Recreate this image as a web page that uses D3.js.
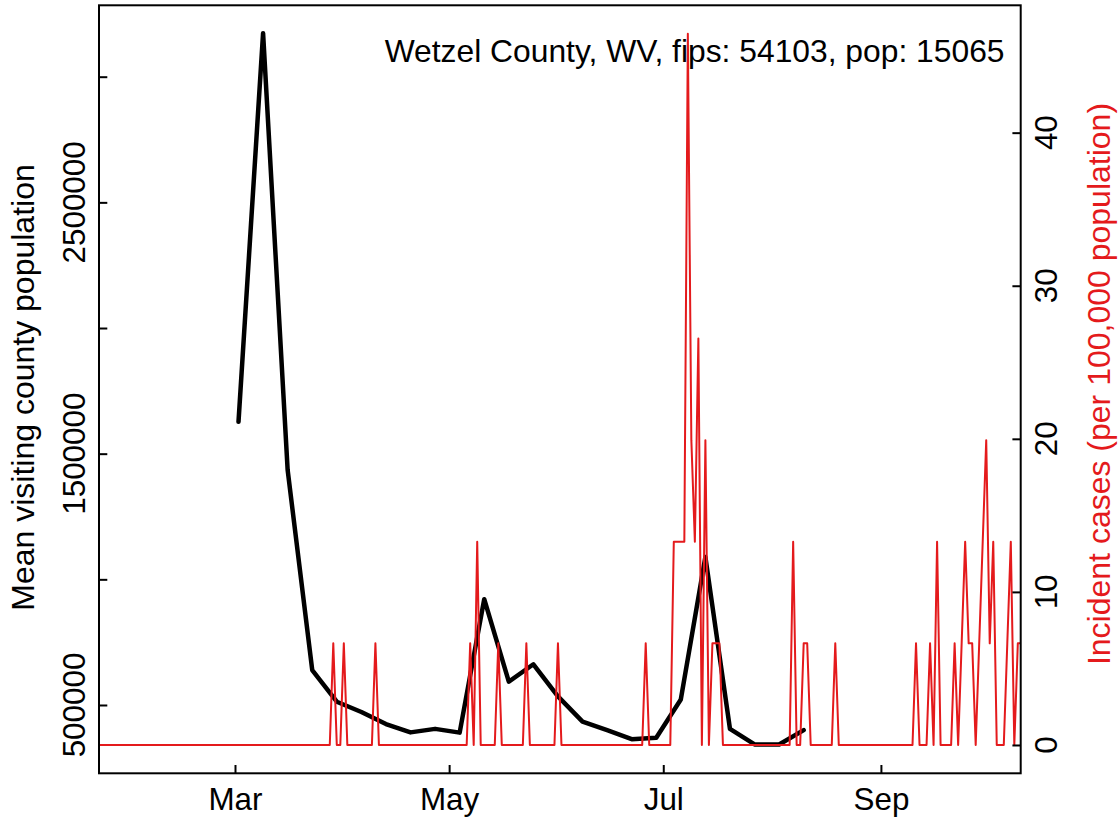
<!DOCTYPE html>
<html>
<head>
<meta charset="utf-8">
<script src="https://cdn.jsdelivr.net/npm/d3@7"></script>
<style>
  html, body { margin: 0; padding: 0; background: #ffffff; }
  svg { display: block; }
  text { font-family: "Liberation Sans", Arial, Helvetica, sans-serif; }
</style>
</head>
<body>
<div id="chart"></div>
<script>
// ---------------- DATA ----------------
const titleText = "Wetzel County, WV, fips: 54103, pop: 15065";
const leftAxisTitle = "Mean visiting county population";
const rightAxisTitle = "Incident cases (per 100,000 population)";

// weekly mean visiting county population (black line)
const visitDates = [
  "2020-03-02","2020-03-09","2020-03-16","2020-03-23","2020-03-30","2020-04-06",
  "2020-04-13","2020-04-20","2020-04-27","2020-05-04","2020-05-11","2020-05-18",
  "2020-05-25","2020-06-01","2020-06-08","2020-06-15","2020-06-22","2020-06-29",
  "2020-07-06","2020-07-13","2020-07-20","2020-07-27","2020-08-03","2020-08-10"
];
const visitValues = [
  1627000, 3173000, 1435000, 639000, 513000, 472000,
  424000, 391000, 405000, 390000, 921000, 593000,
  662000, 534000, 434000, 400000, 364000, 370000,
  522000, 1089000, 405000, 343000, 343000, 400000
];

// daily incident cases per 100,000 (red line), starting 2020-01-22
const caseStart = "2020-01-22";
const caseValues = [
  0,0,0,0,0,0,0,0,0,0,            // Jan 22 - Jan 31
  0,0,0,0,0,0,0,0,0,0,
  0,0,0,0,0,0,0,0,0,0,
  0,0,0,0,0,0,0,0,0,0,
  0,0,0,0,0,0,0,0,0,0,
  0,0,0,0,0,0,0,0,0,0,
  0,0,0,0,0,0,0,6.638,0,0,        // 60-69
  6.638,0,0,0,0,0,0,0,0,6.638,    // 70-79
  0,0,0,0,0,0,0,0,0,0,
  0,0,0,0,0,0,0,0,0,0,
  0,0,0,0,0,0,6.638,0,13.276,0,   // 100-109
  0,0,0,0,6.638,0,0,0,0,0,        // 110-119
  0,0,6.638,0,0,0,0,0,0,0,        // 120-129
  0,6.638,0,0,0,0,0,0,0,0,        // 130-139
  0,0,0,0,0,0,0,0,0,0,
  0,0,0,0,0,0,6.638,0,0,0,        // 150-159
  0,0,0,0,13.276,13.276,13.276,13.276,46.465,19.914,   // 160-169
  13.276,26.552,0,19.914,0,6.638,6.638,6.638,0,0,      // 170-179
  0,0,0,0,0,0,0,0,0,0,
  0,0,0,0,0,0,0,0,13.276,0,       // 190-199
  0,6.638,6.638,0,0,0,0,0,0,0,    // 200-209
  6.638,0,0,0,0,0,0,0,0,0,        // 210-219
  0,0,0,0,0,0,0,0,0,0,
  0,0,0,6.638,0,0,0,6.638,0,13.276,          // 230-239
  0,0,0,0,6.638,0,6.638,13.276,6.638,6.638,  // 240-249
  0,6.638,13.276,19.914,6.638,13.276,0,0,0,6.638, // 250-259
  13.276,0,6.638,6.638            // 260-263
];

const xTickDates = ["2020-03-01","2020-05-01","2020-07-01","2020-09-01"];
const xDomainDates = ["2020-01-22T06:14:00Z","2020-10-10T19:41:00Z"];
const leftTicks = [500000,1000000,1500000,2000000,2500000,3000000];
const leftTickLabels = ["500000","","1500000","","2500000",""];
const leftDomain = [228200, 3284100];
const rightTicks = [0,10,20,30,40];
const rightTickLabels = ["0","10","20","30","40"];
const rightDomain = [-1.85, 48.32];

// ---------------- LAYOUT ----------------
const W = 1119, H = 822;
const plotL = 99, plotR = 1020.7, plotT = 5.3, plotB = 773.3;
const RED = "#e41a1c";
const FS = 31.4;
const tickLen = 8.3;

const parseDay = d3.utcParse("%Y-%m-%d");
const visitData = visitDates.map((d,i) => ({date: parseDay(d), value: visitValues[i]}));
const startDay = parseDay(caseStart);
const caseData = caseValues.map((v,i) => ({date: d3.utcDay.offset(startDay, i), value: v}));

const x = d3.scaleUtc()
  .domain(xDomainDates.map(s => new Date(s)))
  .range([plotL, plotR]);
const yL = d3.scaleLinear().domain(leftDomain).range([plotB, plotT]);
const yR = d3.scaleLinear().domain(rightDomain).range([plotB, plotT]);

const svg = d3.select("#chart").append("svg")
  .attr("width", W).attr("height", H)
  .attr("viewBox", `0 0 ${W} ${H}`);

svg.append("defs").append("clipPath").attr("id","plotclip")
  .append("rect")
  .attr("x", plotL).attr("y", plotT)
  .attr("width", plotR - plotL).attr("height", plotB - plotT);

// black line
svg.append("path")
  .datum(visitData)
  .attr("fill","none")
  .attr("stroke","#000")
  .attr("stroke-width",4.5)
  .attr("stroke-linejoin","round")
  .attr("stroke-linecap","round")
  .attr("d", d3.line().x(d => x(d.date)).y(d => yL(d.value)));

// red line
svg.append("path")
  .datum(caseData)
  .attr("clip-path","url(#plotclip)")
  .attr("fill","none")
  .attr("stroke",RED)
  .attr("stroke-width",2)
  .attr("stroke-linejoin","round")
  .attr("stroke-linecap","round")
  .attr("d", d3.line().x(d => x(d.date)).y(d => yR(d.value)));

// box
svg.append("rect")
  .attr("x", plotL).attr("y", plotT)
  .attr("width", plotR - plotL).attr("height", plotB - plotT)
  .attr("fill","none").attr("stroke","#000").attr("stroke-width",2);

// x axis
const xAxis = d3.axisBottom(x)
  .tickValues(xTickDates.map(parseDay))
  .tickFormat(d3.utcFormat("%b"))
  .tickSizeInner(-tickLen).tickSizeOuter(0);
const gx = svg.append("g").attr("transform",`translate(0,${plotB})`).call(xAxis);
gx.select(".domain").remove();
gx.selectAll(".tick line").attr("stroke","#000").attr("stroke-width",2);
gx.selectAll(".tick text")
  .attr("y", 36.7).attr("dy", null)
  .attr("fill","#000")
  .style("font-size", FS + "px")
  .style("font-family", '"Liberation Sans", Arial, sans-serif');

// left axis
const yAxisL = d3.axisLeft(yL).tickValues(leftTicks).tickFormat("")
  .tickSizeInner(-tickLen).tickSizeOuter(0);
const gyl = svg.append("g").attr("transform",`translate(${plotL},0)`).call(yAxisL);
gyl.select(".domain").remove();
gyl.selectAll(".tick line").attr("stroke","#000").attr("stroke-width",2);
svg.append("g").selectAll("text")
  .data(leftTicks.map((v,i) => ({v, label: leftTickLabels[i]})).filter(d => d.label !== ""))
  .join("text")
  .attr("transform", d => `translate(85,${yL(d.v)}) rotate(-90)`)
  .attr("text-anchor","middle")
  .attr("fill","#000")
  .style("font-size", FS + "px")
  .text(d => d.label);

// right axis
const yAxisR = d3.axisRight(yR).tickValues(rightTicks).tickFormat("")
  .tickSizeInner(-tickLen).tickSizeOuter(0);
const gyr = svg.append("g").attr("transform",`translate(${plotR},0)`).call(yAxisR);
gyr.select(".domain").remove();
gyr.selectAll(".tick line").attr("stroke","#000").attr("stroke-width",2);
svg.append("g").selectAll("text")
  .data(rightTicks.map((v,i) => ({v, label: rightTickLabels[i]})))
  .join("text")
  .attr("transform", d => `translate(1057,${yR(d.v)}) rotate(-90)`)
  .attr("text-anchor","middle")
  .attr("fill","#000")
  .style("font-size", FS + "px")
  .text(d => d.label);

// axis titles
svg.append("text")
  .attr("transform", `translate(33.5,387.5) rotate(-90)`)
  .attr("text-anchor","middle")
  .attr("fill","#000")
  .style("font-size","32px")
  .text(leftAxisTitle);

svg.append("text")
  .attr("transform", `translate(1110,384) rotate(-90)`)
  .attr("text-anchor","middle")
  .attr("fill",RED)
  .style("font-size","32px")
  .text(rightAxisTitle);

// title (top-right legend text)
svg.append("text")
  .attr("x", 1004.5).attr("y", 62)
  .attr("text-anchor","end")
  .attr("fill","#000")
  .style("font-size", "31.8px")
  .text(titleText);
</script>
</body>
</html>
